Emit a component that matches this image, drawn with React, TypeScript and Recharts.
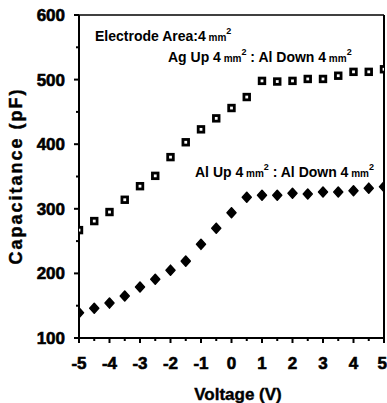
import { ScatterChart, Scatter, XAxis, YAxis, ReferenceLine, Customized } from 'recharts';

const voltage = [-5, -4.5, -4, -3.5, -3, -2.5, -2, -1.5, -1, -0.5, 0, 0.5, 1, 1.5, 2, 2.5, 3, 3.5, 4, 4.5, 5];
const agUp = [267, 281, 295, 314, 335, 351, 380, 403, 423, 440, 456, 473, 498, 497, 498, 501, 501, 506, 512, 512, 516];
const alUp = [139, 146, 154, 165, 179, 191, 205, 219, 245, 270, 294, 318, 321, 321, 324, 323, 326, 326, 328, 332, 334];
const xTicks = [-5, -4.5, -4, -3.5, -3, -2.5, -2, -1.5, -1, -0.5, 0, 0.5, 1, 1.5, 2, 2.5, 3, 3.5, 4, 4.5, 5];
const yTicks = [100, 150, 200, 250, 300, 350, 400, 450, 500, 550, 600];

const agData = voltage.map((v, i) => ({ v, c: agUp[i] }));
const alData = voltage.map((v, i) => ({ v, c: alUp[i] }));

const FONT = '"Liberation Sans", Arial, sans-serif';

function YTick(props: any) {
  const { x, y, payload } = props;
  const major = payload.value % 100 === 0;
  return (
    <g>
      <line x1={x - (major ? 5 : 3)} x2={x} y1={y} y2={y} stroke="#000" strokeWidth={2} />
      {major && (
        <text x={x - 14} y={y} dy={6} textAnchor="end" fontSize={17} fontWeight="bold" fontFamily={FONT} fill="#000" stroke="#000" strokeWidth={0.6}>
          {payload.value}
        </text>
      )}
    </g>
  );
}

function XTick(props: any) {
  const { x, y, payload } = props;
  const major = Number.isInteger(payload.value);
  // last label sits on the right edge of the page, keep it inside
  const last = payload.value === xTicks[xTicks.length - 1];
  return (
    <g>
      <line x1={x} x2={x} y1={y} y2={y + (major ? 5 : 3)} stroke="#000" strokeWidth={2} />
      {major && (
        <text
          x={last ? x + 3 : x}
          y={y + 31}
          textAnchor={last ? 'end' : 'middle'}
          fontSize={17}
          fontWeight="bold"
          fontFamily={FONT}
          fill="#000"
          stroke="#000"
          strokeWidth={0.6}
        >
          {payload.value}
        </text>
      )}
    </g>
  );
}

function Square(props: any) {
  const { cx, cy } = props;
  return <rect x={cx - 2.8} y={cy - 2.8} width={5.6} height={5.6} fill="#fff" stroke="#000" strokeWidth={2.8} />;
}

function Diamond(props: any) {
  const { cx, cy } = props;
  return <path d={`M${cx},${cy - 5} L${cx + 4.5},${cy} L${cx},${cy + 5} L${cx - 4.5},${cy} Z`} fill="#000" stroke="#000" strokeWidth={1.5} strokeLinejoin="round" />;
}

function Unit() {
  return (
    <>
      <tspan fontSize={10}> mm</tspan>
      <tspan fontSize={9} dy={-7}>2</tspan>
      <tspan dy={7}> </tspan>
    </>
  );
}

function Annotations() {
  const common = { fontFamily: FONT, fontSize: 14, fontWeight: 'bold' as const, fill: '#000' };
  return (
    <g>
      <text x={95} y={41} {...common}>
        Electrode Area:4<Unit />
      </text>
      <text x={168} y={62} {...common}>
        Ag Up 4<Unit />: Al Down 4<Unit />
      </text>
      <text x={195} y={177} {...common}>
        Al Up 4<Unit />: Al Down 4<Unit />
      </text>
      <text
        x={16}
        y={176}
        transform="rotate(-90 16 176)"
        textAnchor="middle"
        dominantBaseline="central"
        fontFamily={FONT}
        fontSize={18}
        fontWeight="bold"
        letterSpacing={2}
        fill="#000"
        stroke="#000"
        strokeWidth={0.4}
      >
        Capacitance (pF)
      </text>
      <text x={238} y={400} textAnchor="middle" fontFamily={FONT} fontSize={17} fontWeight="bold" fill="#000" stroke="#000" strokeWidth={0.4}>
        Voltage (V)
      </text>
    </g>
  );
}

export default function App() {
  return (
    <div style={{ position: 'absolute', left: 0, top: 0, background: '#fff' }}>
      <ScatterChart width={387} height={403} margin={{ top: 15, right: 3, left: 0, bottom: 0 }}>
        <XAxis
          type="number"
          dataKey="v"
          domain={[-5, 5]}
          ticks={xTicks}
          interval={0}
          height={65}
          tickSize={0}
          tickMargin={0}
          tick={<XTick />}
          axisLine={{ stroke: '#000', strokeWidth: 2 }}
          allowDataOverflow
        />
        <YAxis
          type="number"
          dataKey="c"
          domain={[100, 600]}
          ticks={yTicks}
          interval={0}
          width={79}
          tickSize={0}
          tickMargin={0}
          tick={<YTick />}
          axisLine={{ stroke: '#000', strokeWidth: 2 }}
          allowDataOverflow
        />
        <ReferenceLine y={600} stroke="#000" strokeWidth={1.5} />
        <ReferenceLine x={5} stroke="#000" strokeWidth={2} />
        <Scatter data={agData} shape={<Square />} isAnimationActive={false} />
        <Scatter data={alData} shape={<Diamond />} isAnimationActive={false} />
        <Customized component={<Annotations />} />
      </ScatterChart>
    </div>
  );
}
